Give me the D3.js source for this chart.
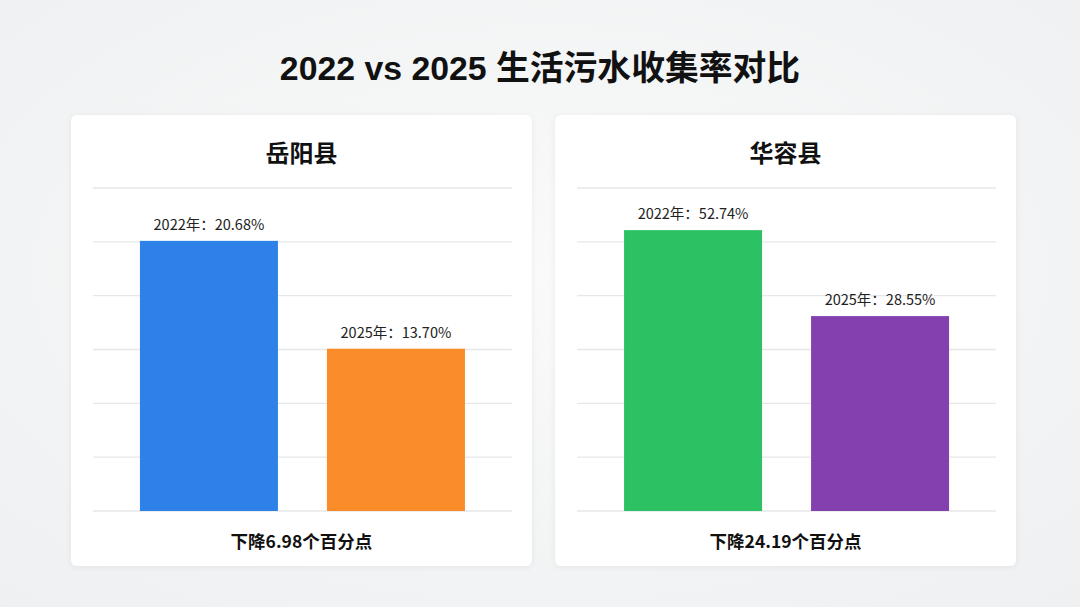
<!DOCTYPE html>
<html><head><meta charset="utf-8">
<script src="https://cdn.jsdelivr.net/npm/d3@7"></script>
<style>
html,body{margin:0;padding:0;}
body{width:1080px;height:607px;overflow:hidden;background:#f3f4f5;font-family:"Noto Sans CJK SC","Noto Sans",sans-serif;}
</style></head>
<body><svg id="c" width="1080" height="607"></svg>
<script>
const chartTitle = "2022 vs 2025 生活污水收集率对比";
const counties = ["岳阳县", "华容县"];
const years = ["2022年", "2025年"];
const values2022 = [20.68, 52.74];
const values2025 = [13.70, 28.55];
const axisMin = [3.2, -26.3];
const axisMax = [24.1, 64.6];
const barColors = [["#2e81e8", "#fa8d29"], ["#2cc264", "#8540b0"]];
const gridCount = 7;

const svg = d3.select("#c");
const defs = svg.append("defs");
const bg = defs.append("radialGradient").attr("id","bg").attr("cx","50%").attr("cy","45%").attr("r","75%");
bg.append("stop").attr("offset","0%").attr("stop-color","#fafafa");
bg.append("stop").attr("offset","100%").attr("stop-color","#eef0f1");
const sh = defs.append("filter").attr("id","sh").attr("x","-10%").attr("y","-10%").attr("width","120%").attr("height","120%");
sh.append("feDropShadow").attr("dx",0).attr("dy",1).attr("stdDeviation",3).attr("flood-color","#000").attr("flood-opacity",0.06);

svg.append("rect").attr("width",1080).attr("height",607).attr("fill","url(#bg)");

svg.append("text").attr("x",540).attr("y",80).attr("text-anchor","middle")
  .attr("font-family",'"Liberation Sans","Noto Sans CJK SC",sans-serif')
  .attr("font-size",33.8).attr("font-weight",700).attr("fill","#111").text(chartTitle);

const panelX = d3.scaleBand().domain(counties).range([71, 1016]).paddingInner(0.048);

counties.forEach((c, i) => {
  const px = panelX(c), pw = panelX.bandwidth();
  const g = svg.append("g").attr("transform", `translate(${px},115)`);
  g.append("rect").attr("width", pw).attr("height", 451).attr("rx", 6)
    .attr("fill", "#fff").attr("filter", "url(#sh)");
  g.append("text").attr("x", pw/2).attr("y", 162-115).attr("text-anchor","middle")
    .attr("font-size",24).attr("font-weight",700).attr("fill","#111").text(c);

  const left = 22, right = pw - 20;
  const x = d3.scaleBand().domain(years).range([left, right]).paddingInner(0.262).paddingOuter(0.251);
  const y = d3.scaleLinear().domain([axisMin[i], axisMax[i]]).range([511-115, 188-115]);

  const gridVals = d3.range(gridCount).map(k => axisMin[i] + (axisMax[i]-axisMin[i]) * k/(gridCount-1));
  g.append("g").selectAll("line").data(gridVals).join("line")
    .attr("x1", left).attr("x2", right)
    .attr("y1", d => y(d)).attr("y2", d => y(d))
    .attr("stroke", "#e6e7e9").attr("stroke-width", 1.3);

  const vals = [values2022[i], values2025[i]];
  g.append("g").selectAll("rect").data(vals).join("rect")
    .attr("x", (d, k) => x(years[k])).attr("width", x.bandwidth())
    .attr("y", d => y(d)).attr("height", d => y(axisMin[i]) - y(d))
    .attr("fill", (d, k) => barColors[i][k]);

  g.append("g").selectAll("text").data(vals).join("text")
    .attr("x", (d, k) => x(years[k]) + x.bandwidth()/2)
    .attr("y", d => y(d) - 11)
    .attr("text-anchor","middle").attr("font-size",14.5).attr("fill","#222")
    .text((d, k) => `${years[k].replace("年","")}年：${d.toFixed(2)}%`);

  const drop = (values2022[i] - values2025[i]).toFixed(2);
  g.append("text").attr("x", pw/2).attr("y", 548-115).attr("text-anchor","middle")
    .attr("font-size",17.5).attr("font-weight",700).attr("fill","#111")
    .text(`下降${drop}个百分点`);
});
</script>
</body></html>
